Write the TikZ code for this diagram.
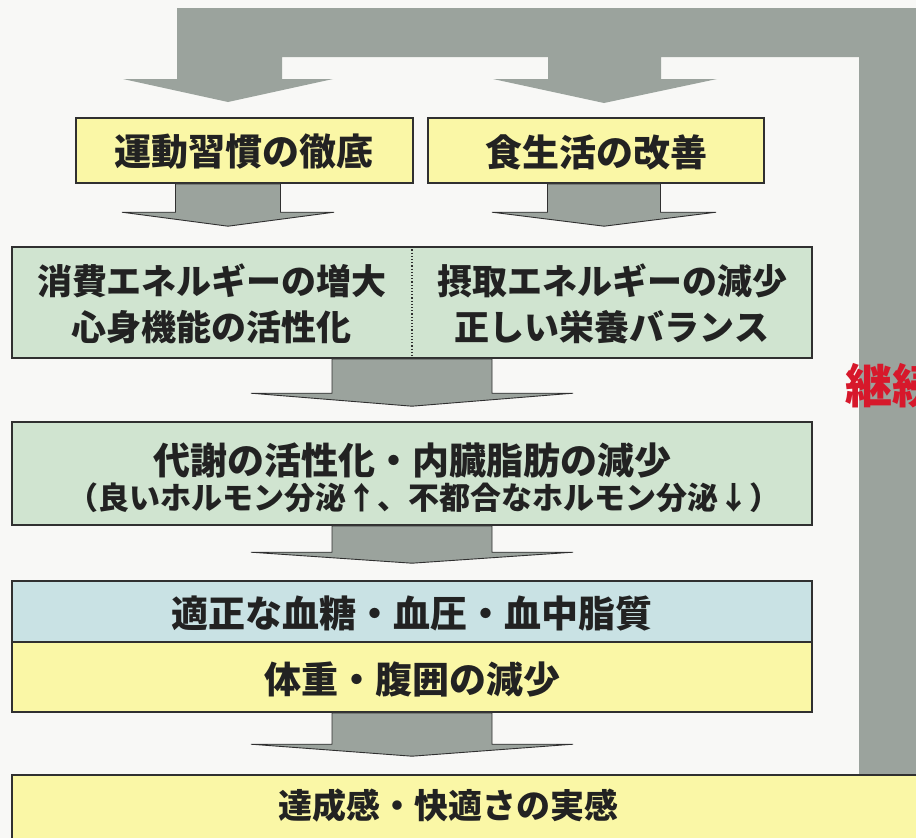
\documentclass[tikz,border=0pt]{standalone}
\usepackage{fontspec}
\newfontfamily\jp{Noto Sans CJK JP}[BoldFont={Noto Sans CJK JP Black}]
\usetikzlibrary{calc}
\definecolor{loopgray}{HTML}{9BA39D}
\definecolor{boxyellow}{HTML}{FAF7A6}
\definecolor{boxgreen}{HTML}{D0E4D0}
\definecolor{boxblue}{HTML}{C9E2E4}
\definecolor{ink}{HTML}{222222}
\definecolor{edge}{HTML}{303030}
\definecolor{redink}{HTML}{D7182B}
\definecolor{paper}{HTML}{F8F8F6}
\tikzset{
  box/.style={draw=edge, line width=1.6pt, rectangle, inner sep=0pt},
  ybox/.style={box, fill=boxyellow},
  gbox/.style={box, fill=boxgreen},
  bbox/.style={box, fill=boxblue},
  label/.style={text=ink, inner sep=0pt, align=center},
  arr/.style={fill=loopgray, draw=edge, line width=0.9pt, line join=miter},
}
% #1 from node, #2 to node, #3 x centre, #4 half shaft, #5 half wing, #6 gap above target, #7 head height
\newcommand\flowarr[7]{%
  \path[arr] let \p1=(#1.south), \p2=(#2.north) in
    ({#3pt-#4pt},{\y1}) -- ({#3pt-#4pt},{\y2+#6pt+#7pt}) -- ({#3pt-#5pt},{\y2+#6pt+#7pt})
    -- ({#3pt},{\y2+#6pt}) -- ({#3pt+#5pt},{\y2+#6pt+#7pt}) -- ({#3pt+#4pt},{\y2+#6pt+#7pt})
    -- ({#3pt+#4pt},{\y1}) -- cycle;}
\begin{document}
\begin{tikzpicture}[x=1pt,y=-1pt]
\useasboundingbox (0,0) rectangle (916,838);
\fill[paper] (0,0) rectangle (916,838);
% feedback loop
\fill[loopgray] (177,8) -- (916,8) -- (916,775) -- (859,775) -- (859,57)
  -- (661,57) -- (661,79) -- (717,79) -- (604,103) -- (493,79) -- (548,79) -- (548,57)
  -- (282,57) -- (282,79) -- (333,79) -- (228,102) -- (123,79) -- (177,79) -- cycle;
\node[font=\jp\bfseries\fontsize{47}{50}\selectfont, text=redink, anchor=west, inner sep=0pt] (cont) at (845,386) {継続};
% boxes
\node[ybox, minimum width=337pt, minimum height=65pt] (A) at (244.5,150.5) {};
\node[ybox, minimum width=336pt, minimum height=65pt] (B) at (596,150.5) {};
\node[gbox, minimum width=800pt, minimum height=111pt] (C) at (412,302.5) {};
\node[gbox, minimum width=800pt, minimum height=103pt] (D) at (412,473.5) {};
\node[bbox, minimum width=800pt, minimum height=61pt] (E) at (412,611.5) {};
\node[ybox, minimum width=800pt, minimum height=70pt] (F) at (412,677) {};
\node[ybox, minimum width=910pt, minimum height=70pt] (G) at (467,810) {};
\draw[edge, line width=1.2pt, dotted] (C.north) -- (C.south);
% arrows
\flowarr{A}{C}{228}{52.5}{106}{20}{14}
\flowarr{B}{C}{604}{56.5}{112}{20}{14}
\flowarr{C}{D}{412}{80}{161}{15}{13}
\flowarr{D}{E}{412}{80}{161}{17}{11}
\flowarr{F}{G}{412}{80}{161}{18}{12}
% labels
\node[label, font=\jp\bfseries\fontsize{37}{40}\selectfont] (At) at (244,152) {運動習慣の徹底};
\node[label, font=\jp\bfseries\fontsize{37}{40}\selectfont] (Bt) at (596,152) {食生活の改善};
\node[label, font=\jp\bfseries\fontsize{35}{46}\selectfont] (C1) at (212,304) {消費エネルギーの増大\\心身機能の活性化};
\node[label, font=\jp\bfseries\fontsize{35}{46}\selectfont] (C2) at (612,304) {摂取エネルギーの減少\\正しい栄養バランス};
\node[label, font=\jp\bfseries\fontsize{37}{40}\selectfont] (D1) at (412,460) {代謝の活性化・内臓脂肪の減少};
\node[label, font=\jp\bfseries\fontsize{31}{34}\selectfont] (D2) at (424,498) {（良いホルモン分泌↑、不都合なホルモン分泌↓）};
\node[label, font=\jp\bfseries\fontsize{37}{40}\selectfont] (Et) at (412,613) {適正な血糖・血圧・血中脂質};
\node[label, font=\jp\bfseries\fontsize{37}{40}\selectfont] (Ft) at (412,679) {体重・腹囲の減少};
\node[label, font=\jp\bfseries\fontsize{34}{38}\selectfont] (Gt) at (448,806) {達成感・快適さの実感};
\end{tikzpicture}
\end{document}
